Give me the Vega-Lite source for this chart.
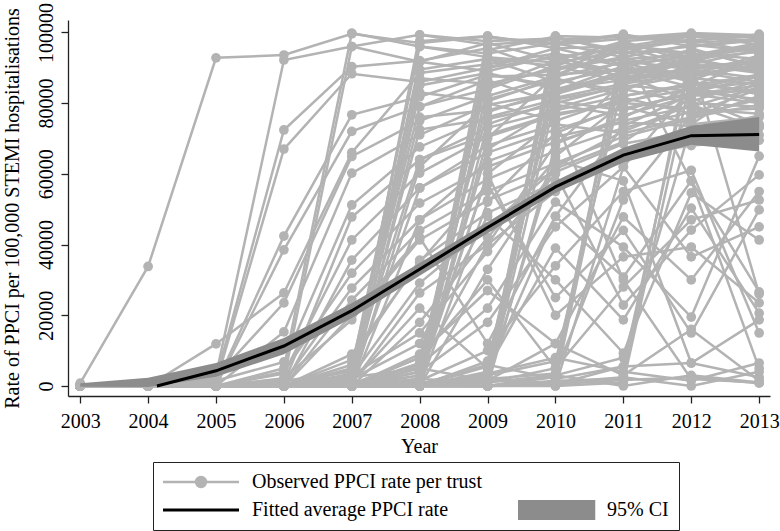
{
  "$schema": "https://vega.github.io/schema/vega-lite/v6.json",
  "width": 702,
  "height": 376,
  "autosize": {"type": "none"},
  "padding": {"left": 68, "top": 20, "right": 10, "bottom": 135},
  "background": "white",
  "config": {
    "view": {"stroke": null},
    "font": "Liberation Serif",
    "axis": {
      "grid": false,
      "domainColor": "#222222",
      "domainWidth": 1.3,
      "tickColor": "#222222",
      "tickWidth": 1.3,
      "tickSize": 7,
      "labelFont": "Liberation Serif",
      "labelFontSize": 20,
      "labelColor": "black",
      "titleFont": "Liberation Serif",
      "titleFontSize": 20,
      "titleFontWeight": "normal",
      "titleColor": "black",
      "labelOverlap": false,
      "labelFlush": false
    }
  },
  "datasets": {
    "trusts": [
      {"t":1,"yr":[2003,2004,2005,2006,2007,2008,2009,2010,2011,2012,2013],"v":[800,33800,92800,93600,99600,97000,98800,96500,98200,99300,98600]},
      {"t":2,"yr":[2003,2004,2005,2006,2007,2008,2009,2010,2011,2012,2013],"v":[0,0,11900,26300,66000,88500,91000,94000,90500,93500,96000]},
      {"t":3,"yr":[2003,2004,2005,2006,2007,2008,2009,2010,2011,2012,2013],"v":[0,0,3000,92200,96000,99300,97500,98300,95000,97800,99000]},
      {"t":4,"yr":[2003,2004,2005,2006,2007,2008,2009,2010,2011,2012,2013],"v":[0,0,2000,72400,90300,92000,95500,89000,96500,94000,92500]},
      {"t":5,"yr":[2003,2004,2005,2006,2007,2008,2009,2010,2011,2012,2013],"v":[0,0,1000,67000,88300,86000,90000,93000,88500,91000,95000]},
      {"t":6,"yr":[2003,2004,2005,2006,2007,2008,2009,2010,2011,2012,2013],"v":[0,0,500,42400,76700,81800,88000,85000,92000,89500,87000]},
      {"t":7,"yr":[2003,2004,2005,2006,2007,2008,2009,2010,2011,2012,2013],"v":[0,0,0,38500,72000,79000,84000,90500,86000,95500,90000]},
      {"t":8,"yr":[2003,2004,2005,2006,2007,2008,2009,2010,2011,2012,2013],"v":[0,0,2500,23500,64900,75000,82000,87500,91500,86500,93000]},
      {"t":9,"yr":[2003,2004,2005,2006,2007,2008,2009,2010,2011,2012,2013],"v":[0,0,0,15300,60200,71000,79500,83000,89000,92500,88500]},
      {"t":10,"yr":[2003,2004,2005,2006,2007,2008,2009,2010,2011,2012,2013],"v":[0,0,1500,6800,51200,67600,76000,81000,84500,88000,91000]},
      {"t":11,"yr":[2003,2004,2005,2006,2007,2008,2009,2010,2011,2012,2013],"v":[0,0,0,5000,99800,96000,94000,97000,93000,96500,94500]},
      {"t":12,"yr":[2003,2004,2005,2006,2007,2008,2009,2010,2011,2012,2013],"v":[0,0,0,2000,96000,91700,97000,92000,97500,91500,97000]},
      {"t":13,"yr":[2003,2004,2005,2006,2007,2008,2009,2010,2011,2012,2013],"v":[0,0,0,800,47800,64000,73000,78000,82000,85500,83000]},
      {"t":14,"yr":[2003,2004,2005,2006,2007,2008,2009,2010,2011,2012,2013],"v":[0,0,0,3500,41300,60200,70500,76500,80500,84000,86000]},
      {"t":15,"yr":[2003,2004,2005,2006,2007,2008,2009,2010,2011,2012,2013],"v":[0,0,0,0,35600,56000,66000,72500,78500,82500,80000]},
      {"t":16,"yr":[2003,2004,2005,2006,2007,2008,2009,2010,2011,2012,2013],"v":[0,0,0,4000,31900,51700,62000,69000,75000,79000,84500]},
      {"t":17,"yr":[2003,2004,2005,2006,2007,2008,2009,2010,2011,2012,2013],"v":[0,0,0,1200,27700,47000,58500,66500,73000,77500,78500]},
      {"t":18,"yr":[2003,2004,2005,2006,2007,2008,2009,2010,2011,2012,2013],"v":[0,0,0,0,24300,44000,55000,63000,70500,75500,82000]},
      {"t":19,"yr":[2003,2004,2005,2006,2007,2008,2009,2010,2011,2012,2013],"v":[0,0,0,2200,18700,41300,52500,60500,68500,72000,76500]},
      {"t":20,"yr":[2003,2004,2005,2006,2007,2008,2009,2010,2011,2012,2013],"v":[0,0,0,0,7400,35600,49000,57500,64500,70000,73500]},
      {"t":21,"yr":[2003,2004,2005,2006,2007,2008,2009,2010,2011,2012,2013],"v":[0,0,0,0,1700,99300,96500,98000,99000,97500,99500]},
      {"t":22,"yr":[2003,2004,2005,2006,2007,2008,2009,2010,2011,2012,2013],"v":[0,0,0,500,3000,97500,99000,95500,96000,98800,97500]},
      {"t":23,"yr":[2003,2004,2005,2006,2007,2008,2009,2010,2011,2012,2013],"v":[0,0,0,0,5000,96000,93000,91500,94500,90000,92000]},
      {"t":24,"yr":[2003,2004,2005,2006,2007,2008,2009,2010,2011,2012,2013],"v":[0,0,0,0,2500,91700,89000,93500,87000,92500,89000]},
      {"t":25,"yr":[2003,2004,2005,2006,2007,2008,2009,2010,2011,2012,2013],"v":[0,0,0,1500,4000,89500,92500,86000,90000,88000,93500]},
      {"t":26,"yr":[2003,2004,2005,2006,2007,2008,2009,2010,2011,2012,2013],"v":[0,0,0,0,0,87000,85500,89500,93000,87000,85500]},
      {"t":27,"yr":[2003,2004,2005,2006,2007,2008,2009,2010,2011,2012,2013],"v":[0,0,0,0,6000,85000,88500,84000,86500,90000,91500]},
      {"t":28,"yr":[2003,2004,2005,2006,2007,2008,2009,2010,2011,2012,2013],"v":[0,0,0,0,1000,83000,80500,87000,82000,85000,88000]},
      {"t":29,"yr":[2003,2004,2005,2006,2007,2008,2009,2010,2011,2012,2013],"v":[0,0,0,0,3500,79000,86500,80000,85000,83500,81000]},
      {"t":30,"yr":[2003,2004,2005,2006,2007,2008,2009,2010,2011,2012,2013],"v":[0,0,0,0,0,76000,78000,82500,88000,80500,86500]},
      {"t":31,"yr":[2003,2004,2005,2006,2007,2008,2009,2010,2011,2012,2013],"v":[0,0,0,800,2000,72500,75500,79500,76500,82000,84000]},
      {"t":32,"yr":[2003,2004,2005,2006,2007,2008,2009,2010,2011,2012,2013],"v":[0,0,0,0,4500,64000,71000,77000,80000,78500,77000]},
      {"t":33,"yr":[2003,2004,2005,2006,2007,2008,2009,2010,2011,2012,2013],"v":[0,0,0,0,1500,56000,68000,74000,71500,76000,79500]},
      {"t":34,"yr":[2003,2004,2005,2006,2007,2008,2009,2010,2011,2012,2013],"v":[0,0,0,0,0,47000,63500,70500,74500,73500,71000]},
      {"t":35,"yr":[2003,2004,2005,2006,2007,2008,2009,2010,2011,2012,2013],"v":[0,0,0,0,2800,29100,45000,61500,69000,81500,74000]},
      {"t":36,"yr":[2003,2004,2005,2006,2007,2008,2009,2010,2011,2012,2013],"v":[0,0,0,0,800,26300,40000,55000,65000,68000,69500]},
      {"t":37,"yr":[2003,2004,2005,2006,2007,2008,2009,2010,2011,2012,2013],"v":[0,0,0,0,0,2000,98500,97000,99500,96000,98000]},
      {"t":38,"yr":[2003,2004,2005,2006,2007,2008,2009,2010,2011,2012,2013],"v":[0,0,0,0,0,500,95000,98800,94000,99500,96500]},
      {"t":39,"yr":[2003,2004,2005,2006,2007,2008,2009,2010,2011,2012,2013],"v":[0,0,0,0,0,4000,92500,90500,97000,93000,95500]},
      {"t":40,"yr":[2003,2004,2005,2006,2007,2008,2009,2010,2011,2012,2013],"v":[0,0,0,0,0,1200,90000,95500,91000,95000,90500]},
      {"t":41,"yr":[2003,2004,2005,2006,2007,2008,2009,2010,2011,2012,2013],"v":[0,0,0,0,0,6500,87500,88000,89500,84500,93000]},
      {"t":42,"yr":[2003,2004,2005,2006,2007,2008,2009,2010,2011,2012,2013],"v":[0,0,0,0,0,0,84500,92000,87500,89000,86000]},
      {"t":43,"yr":[2003,2004,2005,2006,2007,2008,2009,2010,2011,2012,2013],"v":[0,0,0,0,0,3000,81000,86500,83500,91000,88500]},
      {"t":44,"yr":[2003,2004,2005,2006,2007,2008,2009,2010,2011,2012,2013],"v":[0,0,0,0,0,8000,77500,83500,90500,86000,82500]},
      {"t":45,"yr":[2003,2004,2005,2006,2007,2008,2009,2010,2011,2012,2013],"v":[0,0,0,0,0,0,74000,80500,78000,83000,87500]},
      {"t":46,"yr":[2003,2004,2005,2006,2007,2008,2009,2010,2011,2012,2013],"v":[0,0,0,0,0,2000,67000,78500,84000,80000,79000]},
      {"t":47,"yr":[2003,2004,2005,2006,2007,2008,2009,2010,2011,2012,2013],"v":[0,0,0,0,0,1500,60000,75000,81500,77000,84000]},
      {"t":48,"yr":[2003,2004,2005,2006,2007,2008,2009,2010,2011,2012,2013],"v":[0,0,0,0,0,0,52000,71500,79000,74000,76000]},
      {"t":49,"yr":[2003,2004,2005,2006,2007,2008,2009,2010,2011,2012,2013],"v":[0,0,0,0,0,5000,40000,68500,76000,84500,80500]},
      {"t":50,"yr":[2003,2004,2005,2006,2007,2008,2009,2010,2011,2012,2013],"v":[0,0,0,0,0,0,33000,62000,72000,79500,73000]},
      {"t":51,"yr":[2003,2004,2005,2006,2007,2008,2009,2010,2011,2012,2013],"v":[0,0,0,0,0,0,3000,99000,98500,99800,99200]},
      {"t":52,"yr":[2003,2004,2005,2006,2007,2008,2009,2010,2011,2012,2013],"v":[0,0,0,0,0,0,1000,96500,99200,97000,98200]},
      {"t":53,"yr":[2003,2004,2005,2006,2007,2008,2009,2010,2011,2012,2013],"v":[0,0,0,0,0,0,5500,93000,95500,98000,94000]},
      {"t":54,"yr":[2003,2004,2005,2006,2007,2008,2009,2010,2011,2012,2013],"v":[0,0,0,0,0,0,0,90000,92500,93500,97000]},
      {"t":55,"yr":[2003,2004,2005,2006,2007,2008,2009,2010,2011,2012,2013],"v":[0,0,0,0,0,0,2500,87500,96000,90500,91500]},
      {"t":56,"yr":[2003,2004,2005,2006,2007,2008,2009,2010,2011,2012,2013],"v":[0,0,0,0,0,0,7000,84000,88000,92000,89500]},
      {"t":57,"yr":[2003,2004,2005,2006,2007,2008,2009,2010,2011,2012,2013],"v":[0,0,0,0,0,0,0,81500,85500,88500,92500]},
      {"t":58,"yr":[2003,2004,2005,2006,2007,2008,2009,2010,2011,2012,2013],"v":[0,0,0,0,0,0,1500,65000,80000,86000,83000]},
      {"t":59,"yr":[2003,2004,2005,2006,2007,2008,2009,2010,2011,2012,2013],"v":[0,0,0,0,0,0,4000,48000,73500,82500,85000]},
      {"t":60,"yr":[2003,2004,2005,2006,2007,2008,2009,2010,2011,2012,2013],"v":[0,0,0,0,0,0,0,2500,97500,99000,98800]},
      {"t":61,"yr":[2003,2004,2005,2006,2007,2008,2009,2010,2011,2012,2013],"v":[0,0,0,0,0,0,1000,5000,94000,96000,97800]},
      {"t":62,"yr":[2003,2004,2005,2006,2007,2008,2009,2010,2011,2012,2013],"v":[0,0,0,0,0,0,0,1000,91000,93000,96000]},
      {"t":63,"yr":[2003,2004,2005,2006,2007,2008,2009,2010,2011,2012,2013],"v":[0,0,0,0,0,0,3000,7000,86000,89500,92000]},
      {"t":64,"yr":[2003,2004,2005,2006,2007,2008,2009,2010,2011,2012,2013],"v":[0,0,0,0,0,0,0,0,62000,84000,88000]},
      {"t":65,"yr":[2003,2004,2005,2006,2007,2008,2009,2010,2011,2012,2013],"v":[0,0,0,0,0,0,2000,3500,52600,76500,81000]},
      {"t":66,"yr":[2003,2004,2005,2006,2007,2008,2009,2010,2011,2012,2013],"v":[0,0,0,0,0,0,0,1500,2000,96000,98000]},
      {"t":67,"yr":[2003,2004,2005,2006,2007,2008,2009,2010,2011,2012,2013],"v":[0,0,0,0,0,0,0,500,5500,92500,94500]},
      {"t":68,"yr":[2003,2004,2005,2006,2007,2008,2009,2010,2011,2012,2013],"v":[0,0,0,0,0,0,2000,0,1000,87500,90500]},
      {"t":69,"yr":[2003,2004,2005,2006,2007,2008,2009,2010,2011,2012,2013],"v":[0,0,0,0,0,0,0,3000,8000,74000,86500]},
      {"t":70,"yr":[2003,2004,2005,2006,2007,2008,2009,2010,2011,2012,2013],"v":[0,0,0,0,20000,42000,12000,48000,30800,58000,26600]},
      {"t":71,"yr":[2003,2004,2005,2006,2007,2008,2009,2010,2011,2012,2013],"v":[0,0,0,0,9000,35000,57000,25000,44000,15000,49800]},
      {"t":72,"yr":[2003,2004,2005,2006,2007,2008,2009,2010,2011,2012,2013],"v":[0,0,0,0,3000,15000,38000,60000,22900,44100,59700]},
      {"t":73,"yr":[2003,2004,2005,2006,2007,2008,2009,2010,2011,2012,2013],"v":[0,0,0,0,0,9000,27000,12000,47800,30000,55000]},
      {"t":74,"yr":[2003,2004,2005,2006,2007,2008,2009,2010,2011,2012,2013],"v":[0,0,0,0,1000,22000,5000,39000,18700,50300,20600]},
      {"t":75,"yr":[2003,2004,2005,2006,2007,2008,2009,2010,2011,2012,2013],"v":[0,0,0,0,0,4000,18000,45000,62000,36500,45000]},
      {"t":76,"yr":[2003,2004,2005,2006,2007,2008,2009,2010,2011,2012,2013],"v":[0,0,0,0,2000,12000,48000,30000,9300,54600,41300]},
      {"t":77,"yr":[2003,2004,2005,2006,2007,2008,2009,2010,2011,2012,2013],"v":[0,0,0,0,0,6000,22000,52000,39300,19500,65000]},
      {"t":78,"yr":[2003,2004,2005,2006,2007,2008,2009,2010,2011,2012,2013],"v":[0,0,0,0,0,1500,10000,34000,55000,61000,15000]},
      {"t":79,"yr":[2003,2004,2005,2006,2007,2008,2009,2010,2011,2012,2013],"v":[0,0,0,0,0,3000,60000,20000,36500,39300,23500]},
      {"t":80,"yr":[2003,2004,2005,2006,2007,2008,2009,2010,2011,2012,2013],"v":[0,0,0,0,500,8000,30000,5000,28000,47000,52600]},
      {"t":81,"yr":[2003,2004,2005,2006,2007,2008,2009,2010,2011,2012,2013],"v":[0,0,0,0,0,18000,42000,64000,58000,6500,18700]},
      {"t":82,"yr":[2003,2004,2005,2006,2007,2008,2009,2010,2011,2012,2013],"v":[0,0,0,0,0,1000,2000,500,1700,2500,800]},
      {"t":83,"yr":[2003,2004,2005,2006,2007,2008,2009,2010,2011,2012,2013],"v":[0,0,0,0,500,0,3500,8000,4000,1500,6500]},
      {"t":84,"yr":[2003,2004,2005,2006,2007,2008,2009,2010,2011,2012,2013],"v":[0,0,0,0,0,2000,1000,3000,0,3000,1000]},
      {"t":85,"yr":[2003,2004,2005,2006,2007,2008,2009,2010,2011,2012,2013],"v":[0,0,0,0,1500,500,6000,2000,5500,6500,2500]},
      {"t":86,"yr":[2003,2004,2005,2006,2007,2008,2009,2010,2011,2012,2013],"v":[0,0,0,0,0,0,0,1000,2500,0,4000]},
      {"t":87,"yr":[2003,2004,2005,2006,2007,2008,2009,2010,2011,2012,2013],"v":[0,0,0,0,2500,5000,1500,12000,3000,16000,1500]},
      {"t":88,"yr":[2003,2004,2005,2006,2007,2008,2009,2010,2011,2012,2013],"v":[0,0,0,0,0,62000,80000,75000,30000,2000,1000]},
      {"t":89,"yr":[2003,2004,2005,2006,2007,2008,2009,2010,2011,2012,2013],"v":[0,0,0,0,0,0,70000,88000,95000,58000,5000]},
      {"t":90,"yr":[2003,2004,2005,2006,2007,2008,2009,2010,2011,2012,2013],"v":[0,0,0,0,0,0,0,68000,86000,92000,26000]}
    ],
    "band": [
      {"year": 2003, "lo": -200, "hi": 800},
      {"year": 2004, "lo": -300, "hi": 2300},
      {"year": 2005, "lo": 2600, "hi": 6500},
      {"year": 2006, "lo": 9000, "hi": 13600},
      {"year": 2007, "lo": 19200, "hi": 23400},
      {"year": 2008, "lo": 31200, "hi": 34800},
      {"year": 2009, "lo": 43200, "hi": 46400},
      {"year": 2010, "lo": 54600, "hi": 58000},
      {"year": 2011, "lo": 63200, "hi": 67400},
      {"year": 2012, "lo": 68200, "hi": 73600},
      {"year": 2013, "lo": 66300, "hi": 76100}
    ],
    "fit": [
      {"year": 2004.13, "fit": 0},
      {"year": 2005, "fit": 4300},
      {"year": 2006, "fit": 11300},
      {"year": 2007, "fit": 21300},
      {"year": 2008, "fit": 33000},
      {"year": 2009, "fit": 44800},
      {"year": 2010, "fit": 56300},
      {"year": 2011, "fit": 65300},
      {"year": 2012, "fit": 70800},
      {"year": 2013, "fit": 71100}
    ]
  },
  "layer": [
    {
      "data": {"name": "trusts"},
      "transform": [{"flatten": ["yr", "v"], "as": ["year", "rate"]}],
      "mark": {"type": "line", "strokeWidth": 2.5, "point": {"filled": true, "size": 95, "opacity": 1}},
      "encoding": {
        "x": {
          "field": "year", "type": "quantitative",
          "scale": {"domain": [2002.82, 2013.16], "nice": false, "zero": false},
          "axis": {"values": [2003,2004,2005,2006,2007,2008,2009,2010,2011,2012,2013], "format": "d", "title": "Year", "labelPadding": 8, "titlePadding": 5}
        },
        "y": {
          "field": "rate", "type": "quantitative",
          "scale": {"domain": [-2830, 103500], "nice": false, "zero": false},
          "axis": {"values": [0,20000,40000,60000,80000,100000], "format": "d", "title": "Rate of PPCI per 100,000 STEMI hospitalisations", "labelAngle": -90, "labelAlign": "center", "labelBaseline": "alphabetic", "labelPadding": 9, "titlePadding": 14}
        },
        "detail": {"field": "t", "type": "nominal"},
        "color": {
          "datum": "Observed PPCI rate per trust", "type": "nominal",
          "scale": {"domain": ["Observed PPCI rate per trust", "Fitted average PPCI rate", " ", "95% CI"], "range": ["#b3b3b3", "#000000", "#ffffff", "#8c8c8c"]},
          "legend": {
            "title": null,
            "orient": "none",
            "legendX": 85,
            "legendY": 442,
            "columns": 2,
            "columnPadding": 36,
            "rowPadding": 8,
            "padding": 10,
            "strokeColor": "#222222",
            "symbolSize": 5776,
            "clipHeight": 20,
            "symbolOffset": 28,
            "labelOffset": 41,
            "labelFont": "Liberation Serif",
            "labelFontSize": 20,
            "labelColor": "black",
            "labelLimit": 400,
            "encode": {
              "symbols": {
                "update": {
                  "size": {"value": 5776},
                  "shape": {"signal": "datum.value === '95% CI' ? 'M-1,-0.28H1V0.28H-1Z' : datum.value === 'Fitted average PPCI rate' ? 'M-1,0H1' : 'M-1,0H1M0.13,0A0.13,0.13,0,1,1,-0.13,0A0.13,0.13,0,1,1,0.13,0Z'"},
                  "fill": {"signal": "datum.value === '95% CI' ? '#8c8c8c' : datum.value === 'Fitted average PPCI rate' ? 'transparent' : '#b3b3b3'"},
                  "stroke": {"signal": "datum.value === '95% CI' ? 'transparent' : datum.value === 'Fitted average PPCI rate' ? '#000000' : '#b3b3b3'"},
                  "strokeWidth": {"signal": "datum.value === 'Fitted average PPCI rate' ? 3 : 2.5"},
                  "opacity": {"signal": "datum.value === ' ' ? 0 : 1"},
                  "fillOpacity": {"value": 1},
                  "strokeOpacity": {"value": 1}
                }
              }
            }
          }
        }
      }
    },
    {
      "data": {"name": "band"},
      "mark": {"type": "area", "opacity": 1},
      "encoding": {
        "x": {"field": "year", "type": "quantitative"},
        "y": {"field": "lo", "type": "quantitative"},
        "y2": {"field": "hi"},
        "color": {"datum": "95% CI", "type": "nominal"}
      }
    },
    {
      "data": {"name": "fit"},
      "mark": {"type": "line", "strokeWidth": 3},
      "encoding": {
        "x": {"field": "year", "type": "quantitative"},
        "y": {"field": "fit", "type": "quantitative"},
        "color": {"datum": "Fitted average PPCI rate", "type": "nominal"}
      }
    }
  ]
}
